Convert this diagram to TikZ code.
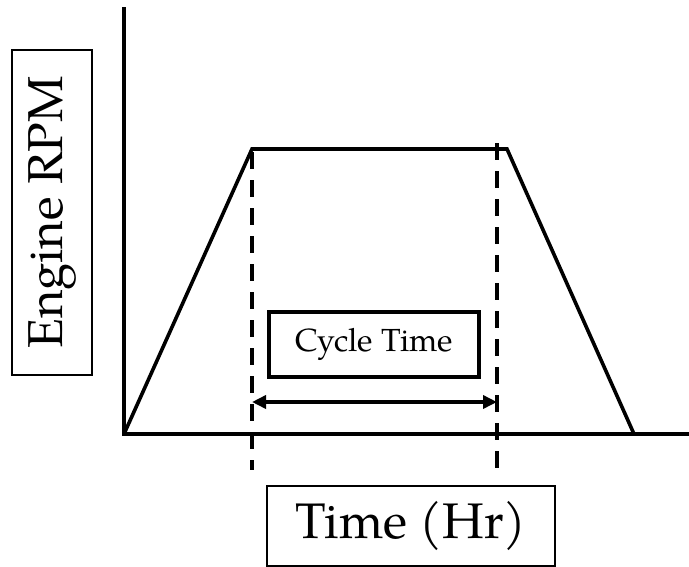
\documentclass[tikz,border=0pt]{standalone}
\usepackage{fontspec}
\setmainfont{TeX Gyre Pagella}
\usetikzlibrary{arrows.meta}
\begin{document}
\begin{tikzpicture}[x=1pt,y=-1pt,
  thickline/.style={line width=4pt},
  dashline/.style={line width=3.6pt,dash pattern=on 17pt off 11pt},
  labelbox/.style={draw,line width=1.3pt,inner sep=0pt},
  cyclebox/.style={draw,line width=3.6pt,inner sep=0pt}]
\useasboundingbox (0,0) rectangle (689,566);
% axes
\coordinate (o) at (124,434);
\coordinate (ytop) at (124,7);
\coordinate (xend) at (689,434);
\draw[thickline] (ytop) -- (o) -- (xend);
% trapezoid
\coordinate (p1) at (252,149);
\coordinate (p2) at (507,149);
\coordinate (p3) at (634,434);
\draw[line width=3.6pt,line join=miter] (o) -- (p1) -- (p2) -- (p3);
% dashed
\coordinate (d1t) at (252,152);
\coordinate (d1b) at (252,470);
\coordinate (d2t) at (497,143);
\coordinate (d2b) at (497,470);
\draw[dashline] (d1t) -- (d1b);
\draw[dashline] (d2t) -- (d2b);
% arrow
\coordinate (a1) at (252,402);
\coordinate (a2) at (497,402);
\draw[line width=3.6pt,{Triangle[length=14pt,width=13pt]}-{Triangle[length=14pt,width=13pt]}] (a1) -- (a2);
% boxes
\node[cyclebox,minimum width=210pt,minimum height=65pt] (ct) at (374,344.5) {\fontsize{32}{38}\selectfont Cycle Time};
\node[labelbox,minimum width=288pt,minimum height=80pt] (tl) at (411,526) {\fontsize{50}{58}\selectfont Time (Hr)};
\node[labelbox,minimum width=80pt,minimum height=325pt] (el) at (52,212.5) {};
\node[rotate=90] (et) at (52,212.5) {\fontsize{49}{56}\selectfont Engine RPM};
\end{tikzpicture}
\end{document}
